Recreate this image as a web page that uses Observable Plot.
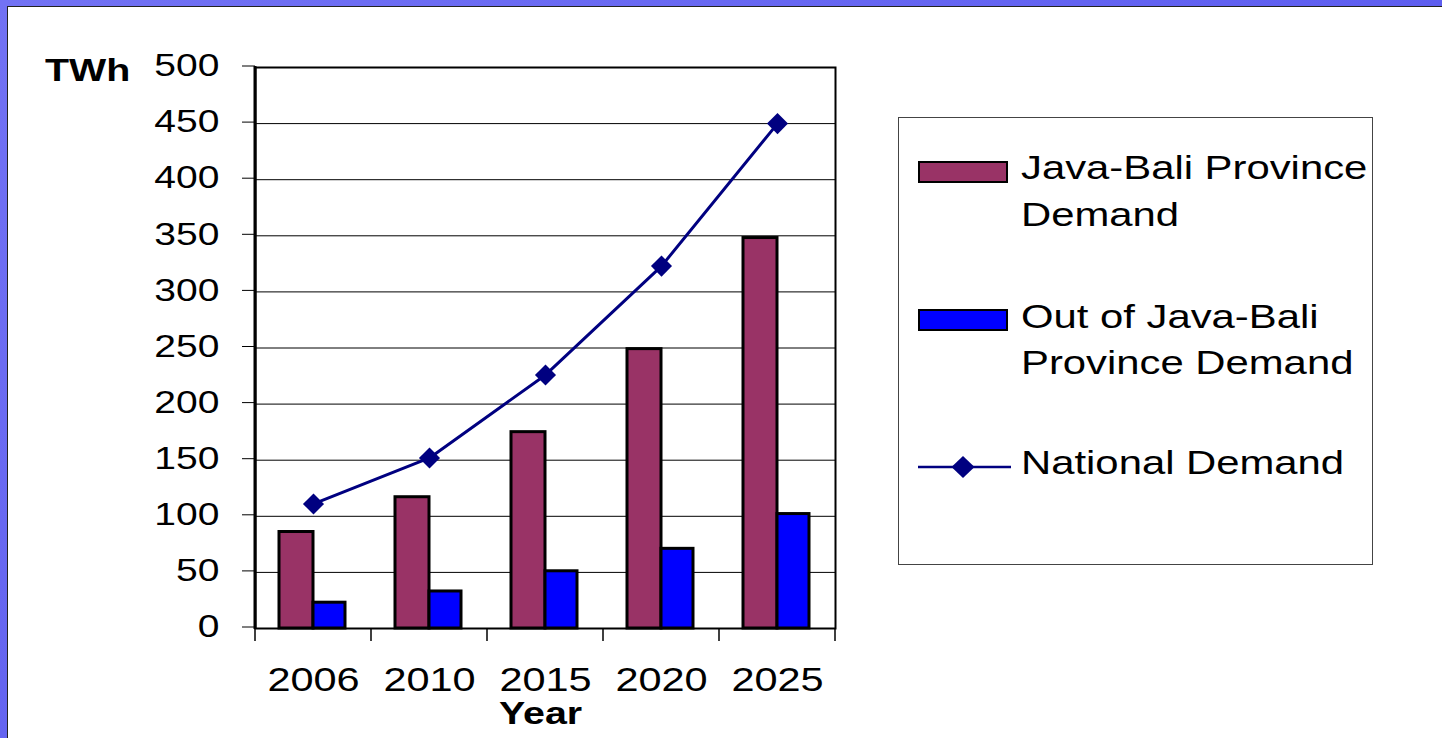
<!DOCTYPE html>
<html><head><meta charset="utf-8">
<script src="https://cdn.jsdelivr.net/npm/d3@7"></script>
<script src="https://cdn.jsdelivr.net/npm/@observablehq/plot@0.6"></script>
<style>
html,body{margin:0;padding:0;background:#fff;width:1442px;height:738px;overflow:hidden;font-family:"Liberation Sans",Arial,sans-serif;color:#000;}
#wrap{position:relative;width:1442px;height:738px;}
#chart{position:absolute;left:0;top:0;}
.abs{position:absolute;white-space:nowrap;}
.st{display:inline-block;transform:scaleX(1.23);transform-origin:0 0;}
</style></head><body>
<div id="wrap">
  <div id="chart"></div>
  <div class="abs" style="left:0;top:0;width:1442px;height:6px;background:linear-gradient(to right,#7272f4,#5e5ef0);"></div>
  <div class="abs" style="left:7px;top:6px;width:1435px;height:1px;background:#222;"></div>
  <div class="abs" style="left:0;top:0;width:7px;height:738px;background:linear-gradient(to bottom,#7272f4,#6464f0);"></div>
  <div class="abs" style="left:7px;top:7px;width:1px;height:731px;background:#222;"></div>
  <div id="ylab" class="abs" style="left:45px;top:53.6px;font-weight:bold;font-size:32px;line-height:32px;"></div>
  <div id="xlab" class="abs" style="left:499px;top:697px;font-weight:bold;font-size:32px;line-height:32px;"></div>
  <div id="legend" class="abs" style="left:898px;top:117px;width:475px;height:448px;border:1.5px solid #444;box-sizing:border-box;"></div>
</div>
<script>
// ---- data ----
const years = ["2006", "2010", "2015", "2020", "2025"];
const javaBali = [86, 117, 175, 249, 348];
const outsideJavaBali = [23, 33, 51, 71, 102];
const national = [111, 152, 226, 323, 450];
const yTicks = [0, 50, 100, 150, 200, 250, 300, 350, 400, 450, 500];
const legendLines = [["Java-Bali Province", "Demand"], ["Out of Java-Bali", "Province Demand"], ["National Demand"]];
const yLabel = "TWh";
const xLabel = "Year";
const colors = ["#993366", "#0000ff", "#000080"];

const rows = years.map((year, i) => ({year, java: javaBali[i], out: outsideJavaBali[i], nat: national[i]}));

const W = 1442, H = 738;

function frameDecor(index, scales, values, dims) {
  const g = d3.create("svg:g");
  const x = scales.x;
  const plotW = dims.width - dims.marginLeft - dims.marginRight;
  const bw = (x.bandwidth ? x.bandwidth() : plotW / years.length);
  const first = x(years[0]);
  const shift = Math.abs(first - dims.marginLeft) < 1 ? 0 : bw / 2;
  const y0 = dims.height - dims.marginBottom;
  const edges = years.map(yr => x(yr) - shift).concat([x(years[years.length - 1]) - shift + bw]);
  edges.forEach(e => g.append("line").attr("x1", e).attr("x2", e).attr("y1", y0).attr("y2", y0 + 13)
    .attr("stroke", "black").attr("stroke-width", 1.5));
  g.append("line").attr("x1", dims.marginLeft).attr("x2", dims.marginLeft)
    .attr("y1", dims.marginTop - 1).attr("y2", y0 + 1).attr("stroke", "black").attr("stroke-width", 3);
  return g.node();
}

const plot = Plot.plot({
  width: W, height: H,
  marginLeft: 255, marginRight: 607, marginTop: 67, marginBottom: 110,
  style: {fontFamily: '"Liberation Sans", Arial, sans-serif', background: "transparent", color: "black", overflow: "visible"},
  x: {type: "band", domain: years, padding: 0, label: null},
  y: {domain: [0, 500], label: null},
  marks: [
    Plot.gridY(yTicks.slice(1, -1), {stroke: "black", strokeOpacity: 1, strokeWidth: 1}),
    Plot.axisY(yTicks, {tickSize: 13, tickPadding: 23, fontSize: 32, stroke: "black", strokeOpacity: 1, strokeWidth: 1, dy: -1.5, label: null}),
    Plot.axisX({tickSize: 0, tickPadding: 38, fontSize: 34, label: null}),
    Plot.barY(rows, {x: "year", y: "java", fill: colors[0], stroke: "black", strokeWidth: 3, insetLeft: 24, insetRight: 58}),
    Plot.barY(rows, {x: "year", y: "out", fill: colors[1], stroke: "black", strokeWidth: 3, insetLeft: 58, insetRight: 26}),
    Plot.frame({stroke: "black", strokeWidth: 2}),
    frameDecor,
    Plot.line(rows, {x: "year", y: "nat", stroke: colors[2], strokeWidth: 3}),
    Plot.dot(rows, {x: "year", y: "nat", symbol: "diamond2", r: 9.5, fill: colors[2], stroke: "none"})
  ]
});
plot.querySelectorAll("text").forEach(t => {
  const tr = t.getAttribute("transform") || "";
  t.setAttribute("transform", tr + " scale(1.22,1)");
});
document.getElementById("chart").appendChild(plot);

// axis titles
document.getElementById("ylab").innerHTML = `<span class="st">${yLabel}</span>`;
document.getElementById("xlab").innerHTML = `<span class="st">${xLabel}</span>`;

// legend
const legend = document.getElementById("legend");
const lx = 898, ly = 117;
const entryTops = [143.3, 291.7, 438.3];
const swatchTops = [160, 308];
legendLines.forEach((lines, i) => {
  const d = document.createElement("div");
  d.className = "abs";
  d.style.cssText = `left:${1020 - lx}px;top:${entryTops[i] - ly}px;font-size:34px;line-height:46.5px;`;
  d.innerHTML = lines.map(l => `<div><span class="st">${l}</span></div>`).join("");
  legend.appendChild(d);
  if (i < 2) {
    const s = document.createElement("div");
    s.className = "abs";
    s.style.cssText = `left:${917 - lx}px;top:${swatchTops[i] - ly}px;width:90px;height:22px;box-sizing:border-box;border:2.5px solid #000;background:${colors[i]};`;
    legend.appendChild(s);
  } else {
    const s = document.createElementNS("http://www.w3.org/2000/svg", "svg");
    s.setAttribute("width", 96); s.setAttribute("height", 26);
    s.style.cssText = `position:absolute;left:${916 - lx}px;top:${453 - ly}px;`;
    s.innerHTML = `<line x1="1" x2="94" y1="13" y2="13" stroke="${colors[2]}" stroke-width="2.5"/>
      <polygon points="46,2 57.5,13 46,24 34.5,13" fill="${colors[2]}"/>`;
    legend.appendChild(s);
  }
});
</script>
</body></html>
